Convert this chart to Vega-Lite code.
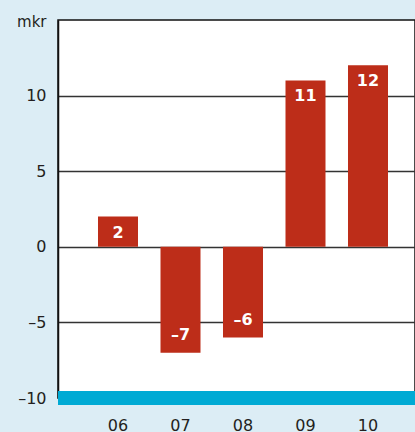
{
  "$schema": "https://vega.github.io/schema/vega-lite/v6.json",
  "autosize": "none",
  "width": 357,
  "height": 378,
  "padding": {"left": 58, "top": 20, "right": 0, "bottom": 34},
  "background": "#dcedf5",
  "config": {
    "view": {"fill": "white", "stroke": "#111111", "strokeWidth": 1.5},
    "font": "DejaVu Sans"
  },
  "layer": [
    {
      "data": {"values": [
        {"year": "06", "value": 2, "label": "2"},
        {"year": "07", "value": -7, "label": "–7"},
        {"year": "08", "value": -6, "label": "–6"},
        {"year": "09", "value": 11, "label": "11"},
        {"year": "10", "value": 12, "label": "12"}
      ]},
      "layer": [
        {
          "mark": {"type": "bar", "color": "#bd2d19"},
          "encoding": {
            "x": {
              "field": "year", "type": "ordinal",
              "scale": {"paddingInner": 0.36, "paddingOuter": 0.536, "align": 0.597},
              "axis": {"title": null, "domain": false, "ticks": false, "labelAngle": 0, "labelPadding": 19, "labelFontSize": 16, "labelColor": "#231f20", "labelBaseline": "top"}
            },
            "y": {
              "field": "value", "type": "quantitative",
              "scale": {"domain": [-10, 15], "nice": false, "zero": false},
              "axis": {
                "values": [-10, -5, 0, 5, 10],
                "title": "mkr", "titleAngle": 0, "titleX": -12, "titleY": 6, "titleAlign": "right", "titleBaseline": "alphabetic",
                "titleFontSize": 15, "titleFontWeight": "normal", "titleColor": "#231f20",
                "labelFontSize": 16, "labelColor": "#231f20", "labelPadding": 12,
                "labelExpr": "replace(datum.label, /[−-]/, '–')",
                "ticks": false,
                "domainColor": "#111111", "domainWidth": 1.5,
                "gridColor": "#333333", "gridWidth": 1.3, "gridOpacity": 1
              }
            }
          }
        },
        {
          "transform": [{"filter": "datum.value >= 0"}],
          "mark": {"type": "text", "color": "white", "fontWeight": "bold", "fontSize": 16, "baseline": "middle", "dy": 16},
          "encoding": {
            "x": {"field": "year", "type": "ordinal"},
            "y": {"field": "value", "type": "quantitative"},
            "text": {"field": "label", "type": "nominal"}
          }
        },
        {
          "transform": [{"filter": "datum.value < 0"}],
          "mark": {"type": "text", "color": "white", "fontWeight": "bold", "fontSize": 16, "baseline": "middle", "dy": -18},
          "encoding": {
            "x": {"field": "year", "type": "ordinal"},
            "y": {"field": "value", "type": "quantitative"},
            "text": {"field": "label", "type": "nominal"}
          }
        }
      ]
    },
    {
      "data": {"values": [{"base": -10}]},
      "mark": {"type": "rule", "color": "#00aad4", "strokeWidth": 14},
      "encoding": {"y": {"field": "base", "type": "quantitative"}}
    }
  ]
}
